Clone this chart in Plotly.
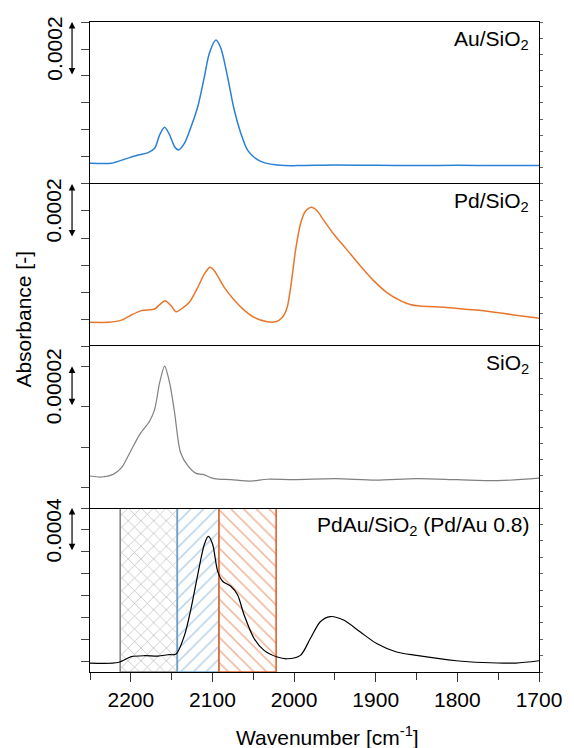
import plotly.graph_objects as go

# ---------------- data (absorbance in units of 1e-4) ----------------
au_wn = [2250, 2223.6, 2207.3, 2191.1, 2178.9, 2170.8, 2164.7, 2158.6, 2152.5, 2146.4,
         2141.5, 2134.2, 2126.2, 2118.0, 2109.9, 2103.8, 2095.8, 2089.7, 2081.5, 2073.3,
         2065.3, 2057.2, 2049.0, 2036.8, 2016.6, 1996.3, 1950, 1900, 1850, 1800, 1750, 1700]
au_abs = [0.77, 0.77, 0.92, 1.07, 1.16, 1.32, 1.82, 2.10, 1.82, 1.38,
          1.26, 1.51, 2.12, 2.86, 3.97, 4.84, 5.33, 5.03, 3.97, 2.74,
          1.88, 1.26, 0.99, 0.79, 0.69, 0.68, 0.70, 0.69, 0.68, 0.69, 0.68, 0.68]

pd_wn = [2250, 2227.6, 2211.4, 2199.3, 2187.1, 2170.8, 2164.7, 2157.9, 2150.6, 2144.5,
         2136.3, 2128.2, 2118.0, 2109.9, 2103.1, 2097.7, 2085.5, 2073.4, 2061.2, 2049.0,
         2032.8, 2022.7, 2014.5, 2008.5, 2003.6, 1998.3, 1992.2, 1986.2, 1978.9, 1971.9,
         1963.8, 1951.6, 1935.4, 1919.2, 1902.9, 1886.7, 1868.4, 1858.0, 1846.1, 1813.6,
         1777.1, 1744.6, 1716.2, 1700]
pd_abs = [0.88, 0.88, 0.96, 1.15, 1.31, 1.37, 1.53, 1.68, 1.49, 1.27,
          1.41, 1.62, 2.17, 2.67, 2.92, 2.79, 2.17, 1.70, 1.33, 1.06,
          0.90, 0.90, 1.06, 1.43, 2.30, 3.53, 4.52, 4.99, 5.14, 5.01,
          4.66, 4.15, 3.57, 2.98, 2.43, 1.99, 1.66, 1.54, 1.48, 1.43,
          1.33, 1.21, 1.09, 1.03]

si_wn = [2250, 2235.8, 2221.6, 2211.4, 2201.2, 2189.0, 2176.9, 2170.8, 2164.7, 2158.6,
         2152.5, 2146.4, 2139.1, 2130.2, 2120.1, 2111.9, 2097.7, 2077.5, 2053.1, 2032.8,
         2000, 1950, 1900, 1850, 1800, 1750, 1700]
si_abs = [0.058, 0.053, 0.066, 0.099, 0.173, 0.264, 0.330, 0.387, 0.519, 0.601,
          0.519, 0.371, 0.174, 0.109, 0.071, 0.066, 0.045, 0.040, 0.033, 0.042,
          0.040, 0.045, 0.038, 0.045, 0.040, 0.035, 0.048]

pdau_wn = [2250, 2215.5, 2199.3, 2183.0, 2166.8, 2154.6, 2144.5, 2134.2, 2126.2, 2118.0,
           2109.9, 2105.0, 2099.8, 2093.7, 2087.6, 2077.5, 2069.3, 2061.2, 2049.0, 2036.8,
           2020.6, 2008.5, 1992.3, 1980.1, 1967.9, 1955.7, 1939.4, 1919.2, 1898.9, 1874.5,
           1850.2, 1801.5, 1769.0, 1728.4, 1700]
pdau_abs = [-0.18, -0.13, 0.40, 0.49, 0.46, 0.58, 0.65, 2.37, 4.83, 7.91,
            10.68, 11.40, 10.68, 8.23, 7.30, 6.84, 6.06, 4.21, 2.06, 0.98,
            0.37, 0.21, 0.52, 2.06, 3.60, 4.07, 3.75, 2.68, 1.60, 0.83,
            0.52, 0.03, -0.13, -0.18, 0.03]

# hatched regions (wavenumber limits)
region_lo = [2143, 2092, 2022]
region_hi = [2213, 2143, 2092]
region_col = ["#858585", "#6aa3d2", "#e0622a"]
region_shape = ["x", "/", "\\"]

panel_labels = ["Au/SiO<sub>2</sub>", "Pd/SiO<sub>2</sub>", "SiO<sub>2</sub>",
                "PdAu/SiO<sub>2</sub> (Pd/Au 0.8)"]
scale_labels = ["0.0002", "0.0002", "0.00002", "0.0004"]
x_ticks = [2200, 2100, 2000, 1900, 1800, 1700]

FONT = "Liberation Sans, Arial, Helvetica, sans-serif"
FS = 21

fig = go.Figure()

# hatched bars in bottom panel
for lo, hi, c, sh in zip(region_lo, region_hi, region_col, region_shape):
    fig.add_trace(go.Bar(
        x=[(lo + hi) / 2], y=[15], base=[-1], width=[hi - lo],
        xaxis="x", yaxis="y4", showlegend=False, hoverinfo="skip",
        marker=dict(color="white", line=dict(color=c, width=1.6),
                    pattern=dict(shape=sh, fgcolor=c, bgcolor="white", size=9, solidity=0.17)),
    ))

fig.add_trace(go.Scatter(x=au_wn, y=au_abs, xaxis="x2", yaxis="y", mode="lines",
                         line=dict(color="#2a80d6", width=1.5, shape="spline", smoothing=0.8),
                         showlegend=False))
fig.add_trace(go.Scatter(x=pd_wn, y=pd_abs, xaxis="x3", yaxis="y2", mode="lines",
                         line=dict(color="#e8772e", width=1.5, shape="spline", smoothing=0.7),
                         showlegend=False))
fig.add_trace(go.Scatter(x=si_wn, y=si_abs, xaxis="x4", yaxis="y3", mode="lines",
                         line=dict(color="#808080", width=1.2, shape="spline", smoothing=0.8),
                         showlegend=False))
fig.add_trace(go.Scatter(x=pdau_wn, y=pdau_abs, xaxis="x", yaxis="y4", mode="lines",
                         line=dict(color="black", width=1.2, shape="spline", smoothing=0.8),
                         showlegend=False))

# dummy traces for right-side minor-tick axes
for ya in ["y5", "y6", "y7", "y8"]:
    fig.add_trace(go.Scatter(x=[None], y=[None], xaxis="x", yaxis=ya, showlegend=False,
                             hoverinfo="skip"))

XR = [2250, 1700]
doms = [[0.7508, 1.0], [0.5015, 0.7508], [0.2523, 0.5015], [0.0, 0.2523]]
yranges = [[0, 6], [0, 6], [-0.1, 0.7], [-1, 14]]
ydticks = [1, 1, 0.2, 2]
xanchors = ["x2", "x3", "x4", "x"]

base_x = dict(range=XR, showline=True, linecolor="black", linewidth=1.3, mirror=True,
              showgrid=False, zeroline=False)
layout = dict(
    width=574, height=748,
    margin=dict(l=90, r=31, t=22, b=76),
    paper_bgcolor="white", plot_bgcolor="white",
    font=dict(family=FONT, size=FS, color="black"),
    barmode="overlay",
    xaxis=dict(base_x, anchor="y4", ticks="outside", ticklen=9, tickwidth=1.2, tickcolor="#333",
               tickvals=x_ticks, ticktext=[str(v) for v in x_ticks],
               tickfont=dict(size=FS),
               minor=dict(dtick=50, tick0=1700, ticks="outside", ticklen=7, tickcolor="#333", tickwidth=1.2)),
    xaxis2=dict(base_x, anchor="y", matches="x", showticklabels=False, ticks=""),
    xaxis3=dict(base_x, anchor="y2", matches="x", showticklabels=False, ticks=""),
    xaxis4=dict(base_x, anchor="y3", matches="x", showticklabels=False, ticks=""),
)
names = ["yaxis", "yaxis2", "yaxis3", "yaxis4"]
for i in range(4):
    layout[names[i]] = dict(domain=doms[i], anchor=xanchors[i], range=yranges[i],
                            tick0=0, dtick=ydticks[i], ticks="outside", ticklen=8,
                            tickwidth=1.2, tickcolor="#444", showticklabels=False,
                            showline=True, linecolor="black", linewidth=1.3, mirror=True,
                            showgrid=False, zeroline=False)
ovl = ["y", "y2", "y3", "y4"]
for i, nm in enumerate(["yaxis5", "yaxis6", "yaxis7", "yaxis8"]):
    layout[nm] = dict(overlaying=ovl[i], side="right", anchor=xanchors[i], range=[0, 10],
                      dtick=1, ticks="outside", ticklen=3, tickwidth=1, tickcolor="#666",
                      showticklabels=False, showline=False, showgrid=False, zeroline=False)
fig.update_layout(**layout)

# scale bars and labels
arrow_top = [6, 6, 0.6, 14]
arrow_bot = [4, 4, 0.4, 10]
yrefs = ["y", "y2", "y3", "y4"]
for i in range(4):
    fig.add_annotation(x=-0.04, xref="paper", y=arrow_top[i], yref=yrefs[i],
                       ax=0, axref="pixel", ay=arrow_bot[i], ayref=yrefs[i],
                       text="", showarrow=True, arrowhead=2, arrowside="end+start",
                       arrowsize=1.1, arrowwidth=1.2, arrowcolor="black")
    fig.add_annotation(x=-0.081, xref="paper", y=(arrow_top[i] + arrow_bot[i]) / 2, yref=yrefs[i],
                       text=scale_labels[i], textangle=-90, showarrow=False,
                       xanchor="center", yanchor="middle", font=dict(size=FS))

for i in range(4):
    fig.add_annotation(x=0.983, xref="paper", y=doms[i][1] - 0.005, yref="paper",
                       text=panel_labels[i], showarrow=False, xanchor="right", yanchor="top",
                       font=dict(size=FS))

# axis titles
fig.add_annotation(x=(23 - 90) / 453, xref="paper", y=(672 - 319) / 650, yref="paper",
                   text="Absorbance [-]", textangle=-90, showarrow=False,
                   xanchor="center", yanchor="middle", font=dict(size=FS))
fig.add_annotation(x=(330 - 90) / 453, xref="paper", y=(672 - 736) / 650, yref="paper",
                   text="Wavenumber [cm<sup>-1</sup>]", showarrow=False,
                   xanchor="center", yanchor="middle", font=dict(size=FS))

fig.write_html("out.html")
